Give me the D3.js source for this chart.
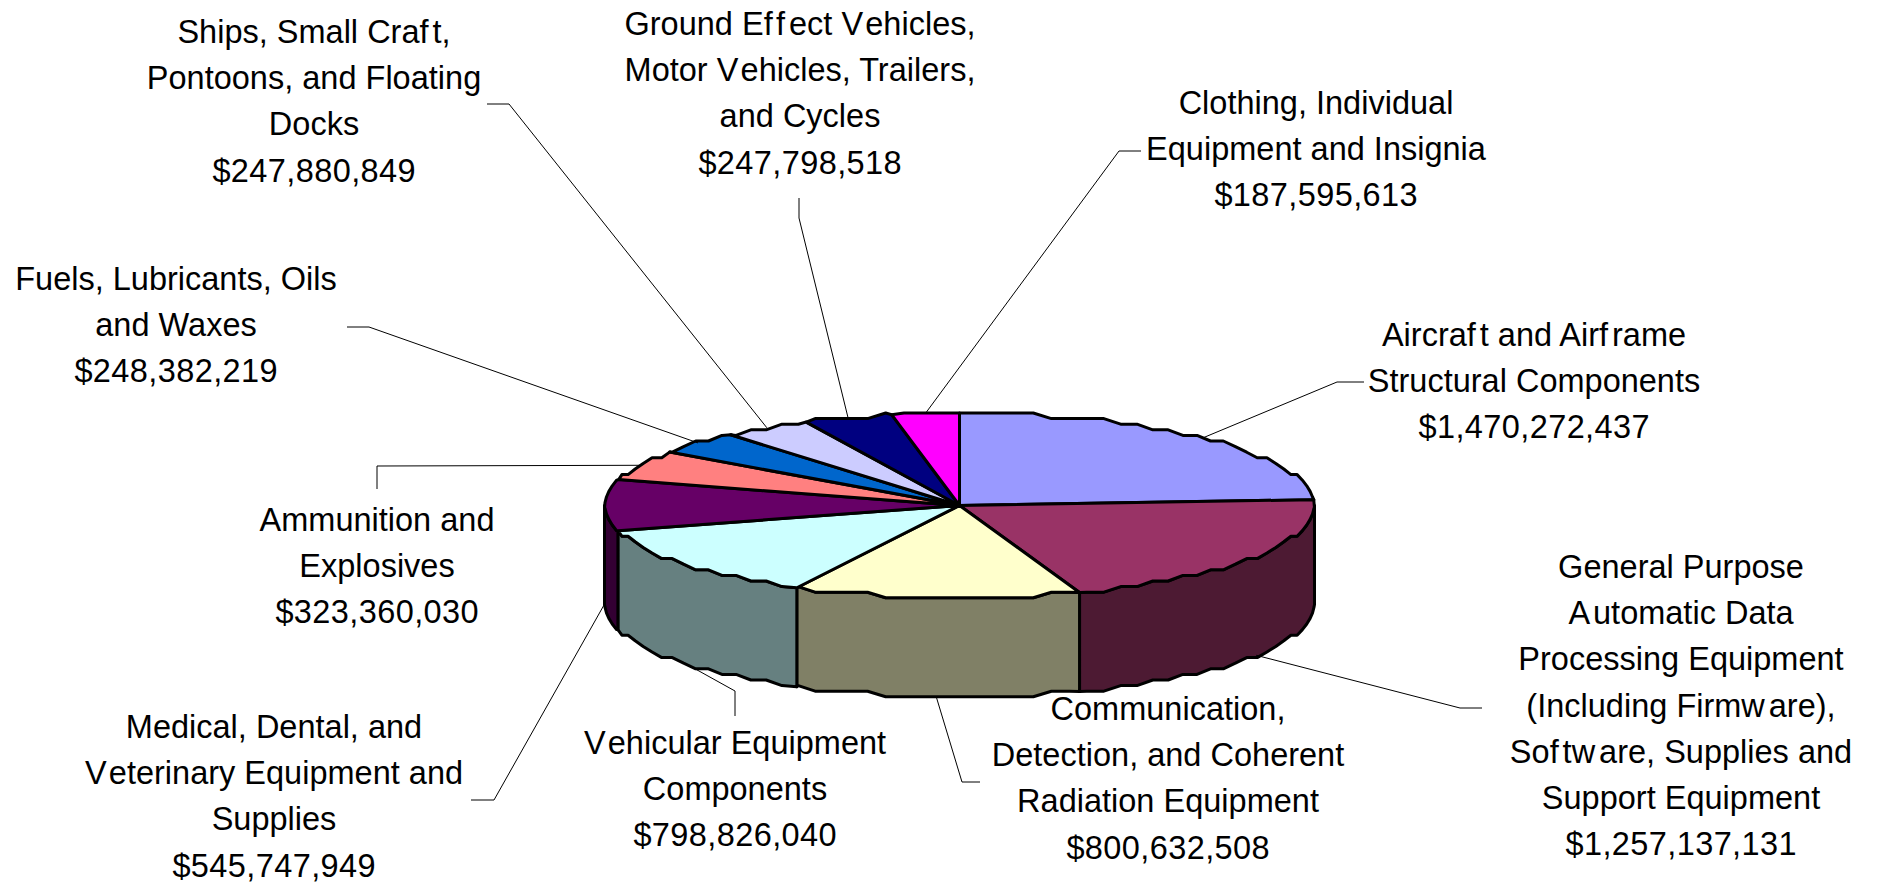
<!DOCTYPE html>
<html><head><meta charset="utf-8">
<script src="https://cdn.jsdelivr.net/npm/d3@7/dist/d3.min.js"></script>
<style>html,body{margin:0;padding:0;background:#fff;overflow:hidden}svg{display:block}
text{font-family:"Liberation Sans",Arial,sans-serif;font-size:33px;fill:#000;text-anchor:middle}</style>
</head><body><svg id="c" width="1879" height="883"></svg>
<script>
const categories=[
 ["Aircraft and Airframe","Structural Components"],
 ["General Purpose","Automatic Data","Processing Equipment","(Including Firmware),","Software, Supplies and","Support Equipment"],
 ["Communication,","Detection, and Coherent","Radiation Equipment"],
 ["Vehicular Equipment","Components"],
 ["Medical, Dental, and","Veterinary Equipment and","Supplies"],
 ["Ammunition and","Explosives"],
 ["Fuels, Lubricants, Oils","and Waxes"],
 ["Ships, Small Craft,","Pontoons, and Floating","Docks"],
 ["Ground Effect Vehicles,","Motor Vehicles, Trailers,","and Cycles"],
 ["Clothing, Individual","Equipment and Insignia"]
];
const values=[1470272437,1257137131,800632508,798826040,545747949,323360030,248382219,247880849,247798518,187595613];
const topColors=["#9999FF","#993366","#FFFFCC","#CCFFFF","#660066","#FF8080","#0066CC","#CCCCFF","#000080","#FF00FF"];
const sideColors=["#4D4D80","#4D1A33","#808066","#668080","#330033","#804040","#003366","#666680","#000040","#800080"];
const labelX=[1534,1681,1168,735,274,377,176,314,800,1316];
const labelY=[346,578,720,754,738,531,290,43,35,114];
const elbows=[
 [[1364,382],[1337,382]],
 [[1482,708],[1460,708]],
 [[980,782],[962,782]],
 [[735,716],[735,691]],
 [[471,800],[494,800]],
 [[377,489],[377,466]],
 [[347,327],[369,327]],
 [[487,104],[509,104]],
 [[799,198],[799,218]],
 [[1141,151],[1119,151]]
];
const cx=959.5,cy=505.5,rx=355,ry=92.5,depth=99,lineStep=46.2,squeeze=0.985;
const svg=d3.select("#c");
const arcs=d3.pie().sort(null).startAngle(0).endAngle(2*Math.PI)(values);
const pt=(a,dy=0)=>[cx+rx*Math.sin(a),cy-ry*Math.cos(a)+dy];
const step=3*Math.PI/180,gy=5.6;
const snap=(p,dy)=>[p[0],cy-ry+Math.round((p[1]-dy-(cy-ry))/gy)*gy+dy];
function edge(a0,a1,dy=0){
  const dir=a1>a0?1:-1,out=[pt(a0,dy)];
  let k=dir>0?Math.floor(a0/step)+1:Math.ceil(a0/step)-1;
  while(dir>0?k*step<a1-1e-6:k*step>a1+1e-6){out.push(snap(pt(k*step,dy),dy));k+=dir;}
  out.push(pt(a1,dy));
  return out;
}
const line=d3.line();
const H=Math.PI/2,T=3*Math.PI/2;
const gW=svg.append("g"),gT=svg.append("g"),gL=svg.append("g"),gX=svg.append("g");
arcs.forEach((d,i)=>{
  const a0=Math.max(d.startAngle,H),a1=Math.min(d.endAngle,T);
  if(a1>a0){
    gW.append("path").attr("d",line([...edge(a0,a1),...edge(a1,a0,depth)])+"Z")
      .attr("fill",sideColors[i]).attr("stroke","#000").attr("stroke-width",3).attr("stroke-linejoin","round");
  }
});
// extra gaps the reference's renderer leaves after these letters
const gap=(c,n)=>c==="f"||c==="w"||c==="V"?4:(c==="A"&&n==="u")?3:/[$\d,]/.test(c)&&/[\d,]/.test(n)?0.4:0;
arcs.forEach((d,i)=>{
  gT.append("path").attr("d",line([[cx,cy],...edge(d.startAngle,d.endAngle)])+"Z")
    .attr("fill",topColors[i]).attr("stroke","#000").attr("stroke-width",3).attr("stroke-linejoin","round");
  const mid=(d.startAngle+d.endAngle)/2;
  const end=pt(mid,Math.cos(mid)<0.02?depth:0);
  gL.append("path").attr("d",line([...elbows[i],end])).attr("fill","none").attr("stroke","#000").attr("stroke-width",1);
  const lines=[...categories[i],"$"+d3.format(",")(values[i])];
  lines.forEach((s,k)=>{
    const dx=[...s].map((c,j)=>j>0?gap(s[j-1],c):0).join(" ");
    gX.append("text").attr("dx",dx).attr("transform",`translate(${labelX[i]},${labelY[i]+k*lineStep}) scale(${squeeze},1)`).text(s);
  });
});
</script></body></html>
